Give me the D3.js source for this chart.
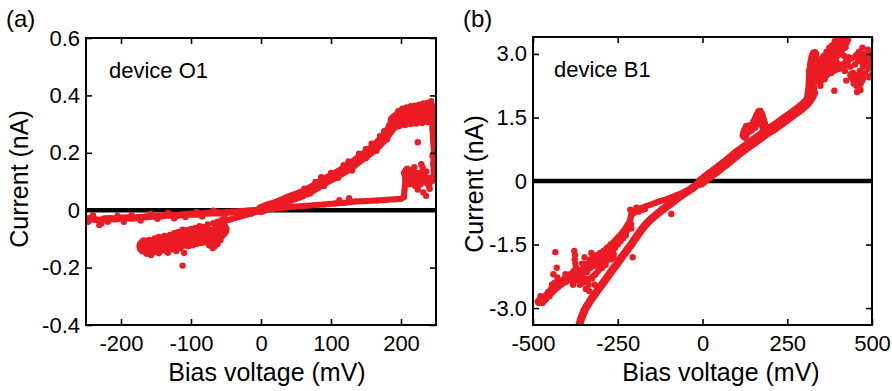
<!DOCTYPE html>
<html>
<head>
<meta charset="utf-8">
<script src="https://cdn.jsdelivr.net/npm/d3@7"></script>
<style>
body { margin: 0; background: #fff; }
svg { display: block; font-family: "Liberation Sans", Arial, Helvetica, sans-serif; }
</style>
</head>
<body>
<div class="chart"></div>
<script>
// ---- panel (a): device O1, current in nA vs bias in mV ----
const aXTicks = [-200, -100, 0, 100, 200]
const aYTicks = [-0.4, -0.2, 0, 0.2, 0.4, 0.6]

const aNegFlat = [[-250,-0.028],[-243,-0.03],[-236,-0.033],[-230,-0.036],[-224,-0.03],[-216,-0.029],[-208,-0.031],[-200,-0.027],[-192,-0.026],[-184,-0.028],[-176,-0.025],[-168,-0.024],[-160,-0.022],[-152,-0.02],[-144,-0.021],[-136,-0.018],[-128,-0.017],[-120,-0.019],[-112,-0.015],[-104,-0.014],[-96,-0.013],[-88,-0.014],[-80,-0.011],[-72,-0.01],[-64,-0.009],[-56,-0.01],[-48,-0.007],[-40,-0.006],[-32,-0.005],[-24,-0.004],[-16,-0.002],[-8,-0.001],[0,0]]
const aNegFlatDots = [[-247,-0.04],[-240,-0.018],[-231,-0.052],[-228,-0.046],[-219,-0.04],[-205,-0.02],[-196,-0.04],[-185,-0.017],[-172,-0.036],[-158,-0.012],[-148,-0.03],[-133,-0.01],[-124,-0.028],[-108,-0.024],[-92,-0.006],[-84,-0.022],[-68,-0.002],[-52,-0.017]]
const aNegLink = [[-62,-0.046],[-54,-0.04],[-46,-0.034],[-38,-0.028],[-30,-0.022],[-22,-0.017],[-14,-0.012],[-6,-0.005],[2,0.002]]
const aBlob = [[-166,-0.126],[-158,-0.129],[-150,-0.122],[-142,-0.118],[-134,-0.115],[-126,-0.11],[-118,-0.107],[-110,-0.104],[-102,-0.098],[-94,-0.093],[-86,-0.09],[-78,-0.088],[-70,-0.088],[-63,-0.082],[-57,-0.068]]
const aBlobDots = [[-168,-0.142],[-163,-0.152],[-157,-0.156],[-151,-0.144],[-146,-0.15],[-140,-0.14],[-133,-0.148],[-127,-0.136],[-121,-0.142],[-115,-0.132],[-110,-0.149],[-104,-0.126],[-98,-0.122],[-92,-0.118],[-86,-0.114],[-80,-0.112],[-74,-0.122],[-69,-0.132],[-66,-0.126],[-62,-0.118],[-58,-0.104],[-168,-0.105],[-160,-0.104],[-152,-0.098],[-146,-0.093],[-138,-0.09],[-130,-0.086],[-124,-0.08],[-118,-0.076],[-112,-0.068],[-106,-0.07],[-100,-0.065],[-94,-0.062],[-88,-0.056],[-82,-0.058],[-76,-0.05],[-68,-0.045],[-62,-0.04],[-56,-0.034],[-64,-0.06],[-60,-0.075],[-60,-0.092],[-112,-0.193]]
const aPosRise = [[0,0.002],[8,0.01],[16,0.016],[24,0.023],[32,0.031],[40,0.04],[48,0.047],[56,0.054],[64,0.063],[72,0.073],[80,0.085],[88,0.098],[96,0.108],[104,0.118],[112,0.13],[120,0.142],[128,0.154],[136,0.17],[144,0.184],[152,0.199],[160,0.214],[168,0.232],[175,0.25],[181,0.27],[187,0.29],[193,0.305]]
const aPosTop = [[193,0.31],[200,0.322],[208,0.327],[216,0.33],[224,0.333],[232,0.337],[240,0.342],[246,0.34]]
const aPosUpperDots = [[62,0.075],[78,0.098],[86,0.115],[100,0.13],[118,0.157],[125,0.17],[140,0.197],[150,0.213],[158,0.232],[170,0.258],[176,0.275],[183,0.295],[189,0.315],[196,0.345],[202,0.354],[208,0.358],[214,0.362],[220,0.364],[226,0.368],[232,0.372],[238,0.374],[243,0.38],[246,0.362],[70,0.058],[90,0.084],[110,0.113],[130,0.138],[150,0.182],[165,0.207],[180,0.247],[198,0.294],[206,0.297],[214,0.3],[222,0.302],[230,0.304],[238,0.307],[245,0.3]]
const aEdge = [[244,0.33],[245,0.28],[246,0.24],[247,0.2],[246,0.16],[247,0.12]]
const aPosLower = [[0,0],[15,0.004],[30,0.008],[45,0.012],[60,0.015],[75,0.017],[90,0.02],[105,0.023],[120,0.026],[135,0.03],[150,0.032],[165,0.034],[180,0.036],[192,0.038],[200,0.04],[204,0.046]]
const aJump = [[204,0.045],[205,0.07],[206,0.1],[206,0.125],[207,0.14]]
const aLowerRight = [[207,0.13],[210,0.115],[214,0.12],[218,0.105],[222,0.1],[226,0.11],[230,0.125],[234,0.11],[238,0.1],[242,0.105],[246,0.11]]
const aPosDots = [[112,0.035],[126,0.042],[209,0.145],[216,0.14],[219,0.15],[223,0.13],[229,0.16],[231,0.148],[236,0.135],[212,0.09],[220,0.085],[228,0.09],[240,0.085],[224,0.237],[224,0.072],[232,0.062],[236,0.05],[241,0.075],[248,0.15],[248,0.25],[245,0.19]]

// ---- panel (b): device B1 ----
const bXTicks = [-500, -250, 0, 250, 500]
const bYTicks = [-3, -1.5, 0, 1.5, 3]

const bNegMain = [[0,0],[-15,-0.08],[-30,-0.17],[-45,-0.25],[-60,-0.33],[-74,-0.41],[-88,-0.5],[-102,-0.58],[-115,-0.66],[-128,-0.74],[-140,-0.82],[-152,-0.9],[-162,-0.98],[-172,-1.07],[-180,-1.15],[-188,-1.24],[-196,-1.33],[-203,-1.41],[-210,-1.5],[-218,-1.58],[-225,-1.66],[-233,-1.74],[-240,-1.82],[-248,-1.91],[-256,-2.0],[-264,-2.08],[-272,-2.17],[-280,-2.26],[-288,-2.35],[-296,-2.44],[-305,-2.53],[-312,-2.61],[-320,-2.7],[-328,-2.79],[-335,-2.88],[-341,-2.95],[-347,-3.03],[-353,-3.15],[-359,-3.28],[-364,-3.42]]
const bNegUpper = [[-206,-0.72],[-198,-0.7],[-190,-0.67],[-180,-0.64],[-168,-0.6],[-154,-0.56],[-140,-0.52],[-128,-0.48],[-115,-0.45],[-102,-0.42],[-90,-0.38],[-78,-0.34],[-65,-0.3],[-52,-0.25],[-40,-0.21],[-28,-0.15]]
const bNoisyLow = [[-482,-2.85],[-465,-2.76],[-450,-2.64],[-435,-2.52],[-420,-2.42],[-405,-2.34],[-392,-2.3],[-380,-2.28]]
const bNoisyMid = [[-378,-2.15],[-360,-2.15],[-340,-2.05],[-320,-1.92],[-300,-1.8],[-280,-1.62],[-260,-1.47],[-240,-1.3],[-225,-1.15],[-215,-1.02]]
const bNoisyMid2 = [[-362,-2.45],[-340,-2.35],[-318,-2.22],[-296,-2.02],[-278,-1.85],[-262,-1.72]]
const bKneeDots = [[-213,-0.68],[-210,-0.8],[-205,-0.77],[-200,-0.74],[-195,-0.63],[-188,-0.72],[-178,-0.68],[-170,-0.66],[-212,-0.87],[-214,-0.94],[-100,-0.5],[-93,-0.47],[-86,-0.44],[-79,-0.42],[-72,-0.4],[-92,-0.78]]
const bNegDots = [[-482,-2.85],[-476,-2.8],[-470,-2.76],[-466,-2.82],[-460,-2.7],[-455,-2.62],[-450,-2.66],[-446,-2.55],[-442,-2.6],[-438,-2.48],[-434,-2.52],[-430,-2.42],[-426,-2.5],[-422,-2.38],[-418,-2.45],[-414,-2.35],[-410,-2.4],[-406,-2.3],[-402,-2.38],[-398,-2.25],[-394,-2.32],[-478,-2.72],[-472,-2.88],[-462,-2.78],[-452,-2.72],[-444,-2.45],[-436,-2.4],[-428,-2.28],
  [-434,-1.68],[-430,-2.05],[-404,-2.2],[-440,-2.2],
  [-378,-1.65],[-376,-1.75],[-377,-1.85],[-375,-1.95],[-373,-2.05],[-374,-2.15],[-372,-2.25],[-370,-2.35],[-368,-2.2],[-366,-2.1],[-385,-2.3],[-390,-2.2],[-382,-2.45],
  [-362,-2.3],[-358,-2.4],[-354,-2.2],[-350,-2.05],[-346,-2.3],[-342,-1.95],[-340,-2.15],[-336,-2.45],[-332,-1.85],[-330,-2.05],[-326,-2.3],[-322,-1.8],[-320,-2.0],[-316,-2.2],[-312,-1.75],[-310,-1.95],[-306,-2.1],[-302,-1.7],[-300,-1.9],[-296,-2.05],[-292,-1.65],[-290,-1.85],[-286,-1.98],[-355,-1.95],[-348,-1.8],[-344,-2.55],[-334,-2.6],[-328,-1.7],[-318,-2.45],
  [-282,-1.58],[-278,-1.75],[-274,-1.62],[-270,-1.5],[-266,-1.68],[-262,-1.45],[-258,-1.58],[-254,-1.4],[-250,-1.5],[-246,-1.32],[-242,-1.42],[-238,-1.25],[-234,-1.35],[-230,-1.18],[-226,-1.28],[-222,-1.12],[-218,-1.05],[-214,-1.0],[-210,-1.12],[-206,-1.8],[-270,-1.85],[-262,-1.8]]
const bPosMain = [[-5,-0.03],[10,0.07],[21,0.14],[32,0.2],[44,0.27],[56,0.35],[68,0.42],[80,0.5],[92,0.58],[104,0.66],[116,0.73],[128,0.8],[140,0.87],[152,0.94],[164,1.01],[176,1.08],[188,1.15],[200,1.21],[212,1.27],[224,1.34],[236,1.41],[248,1.48],[260,1.55],[272,1.62],[284,1.69],[296,1.77],[306,1.84],[314,1.92],[320,2.0],[325,2.08]]
const bBump = [[124,1.08],[127,1.17],[130,1.22],[134,1.24],[138,1.22],[142,1.25],[147,1.29],[152,1.33],[156,1.39],[160,1.46],[163,1.52],[166,1.57],[169,1.6],[172,1.54],[175,1.45],[178,1.38],[181,1.3],[185,1.25]]
const bBumpDots = [[126,1.02],[129,1.3],[135,1.15],[140,1.32],[145,1.2],[150,1.4],[155,1.26],[162,1.38],[165,1.64],[170,1.66],[173,1.45],[177,1.5],[180,1.22]]
const bTopCol = [[314,1.95],[318,2.2],[320,2.5],[324,2.8],[330,3.0]]
const bTopMain = [[340,2.6],[360,2.8],[380,2.95],[400,3.15],[415,3.35]]
const bTopLow = [[345,2.35],[370,2.55],[395,2.65],[420,2.75],[432,2.9]]
const bRightUp = [[462,2.95],[475,2.85],[488,2.8],[498,2.9]]
const bRightLow = [[440,2.5],[452,2.35],[462,2.3],[472,2.45]]
const bTopDots = [[318,2.0],[322,2.15],[316,2.3],[320,2.45],[314,2.6],[318,2.75],[322,2.9],[326,2.4],[330,2.2],[334,2.55],[338,2.35],[342,2.7],[346,2.5],[350,2.85],[354,2.6],[358,2.95],[362,2.75],[366,3.05],[370,2.85],[374,3.15],[378,2.9],[382,3.2],[386,3.0],[390,3.3],[394,3.05],[398,3.38],[402,3.2],[406,3.4],[410,3.1],[414,3.3],[418,2.95],[422,3.15],[426,2.8],[372,2.6],[380,2.55],[388,2.7],[396,2.8],[404,2.65],[412,2.75],[420,2.6],[389,2.13],[424,2.37],[360,2.4],[348,2.25],
  [436,2.7],[440,2.9],[444,2.55],[448,2.4],[450,2.75],[454,2.25],[458,2.5],[460,2.85],[464,2.6],[468,2.35],[470,2.95],[474,2.7],[478,3.0],[482,2.8],[486,2.9],[490,2.65],[494,2.75],[496,3.05],[492,2.45],[488,3.1],[480,2.55],[466,2.15],[456,2.1],[446,2.3],[498,2.5],[472,3.15],[462,3.05],[452,2.95]]

const red = "#ec1c24"
const fmtA = d => d === 0 ? "0" : String(d)
const fmtB = d => d === 0 ? "0" : d.toFixed(1)

const panels = [
  {label: "(a)", labelX: 6, name: "device O1", nameX: 109, nameY: 78,
   left: 86, right: 436, top: 38, bottom: 325,
   xDomain: [-250, 250], yDomain: [-0.4, 0.6], xTicks: aXTicks, yTicks: aYTicks, fx: fmtA, fy: fmtA,
   xTitleX: 267, yTitleX: 28, yTitleY: 179,
   bands: [{pts: aNegFlat, w: 7}, {pts: aNegLink, w: 6}, {pts: aBlob, w: 17}, {pts: aPosRise, w: 11},
           {pts: aPosTop, w: 17}, {pts: aEdge, w: 6}, {pts: aPosLower, w: 6}, {pts: aJump, w: 6},
           {pts: aLowerRight, w: 10}],
   dots: [aNegFlatDots, aBlobDots, aPosUpperDots, aPosDots]},
  {label: "(b)", labelX: 463, name: "device B1", nameX: 554, nameY: 77,
   left: 533, right: 872, top: 37, bottom: 325,
   xDomain: [-500, 500], yDomain: [-3.4, 3.4], xTicks: bXTicks, yTicks: bYTicks, fx: fmtA, fy: fmtB,
   xTitleX: 721, yTitleX: 483, yTitleY: 184,
   bands: [{pts: bNegMain, w: 8}, {pts: bNegUpper, w: 6}, {pts: bNoisyLow, w: 9}, {pts: bNoisyMid, w: 9},
           {pts: bNoisyMid2, w: 6}, {pts: bPosMain, w: 11}, {pts: bBump, w: 10},
           {pts: bTopCol, w: 10}, {pts: bTopMain, w: 16}, {pts: bTopLow, w: 8},
           {pts: bRightUp, w: 12}, {pts: bRightLow, w: 9}],
   dots: [bKneeDots, bNegDots, bBumpDots, bTopDots]}
]

const svg = d3.select(".chart").append("svg")
    .attr("width", 892)
    .attr("height", 391)

panels.forEach((p, i) => {
    const x = d3.scaleLinear().domain(p.xDomain).range([p.left, p.right])
    const y = d3.scaleLinear().domain(p.yDomain).range([p.bottom, p.top])
    const g = svg.append("g")

    g.append("clipPath").attr("id", "clip" + i)
      .append("rect")
        .attr("x", p.left).attr("y", p.top)
        .attr("width", p.right - p.left).attr("height", p.bottom - p.top)

    const plot = g.append("g").attr("clip-path", `url(#clip${i})`)
    const line = d3.line().x(d => x(d[0])).y(d => y(d[1]))

    // zero-current reference trace
    plot.append("path")
        .attr("d", line([[p.xDomain[0], 0], [p.xDomain[1], 0]]))
        .attr("stroke", "#000")
        .attr("stroke-width", 4.5)

    p.bands.forEach(b => {
        plot.append("path")
            .attr("d", line(b.pts))
            .attr("fill", "none")
            .attr("stroke", red)
            .attr("stroke-width", b.w)
            .attr("stroke-linejoin", "round")
            .attr("stroke-linecap", "round")
        plot.selectAll(null).data(b.pts).join("circle")
            .attr("cx", d => x(d[0])).attr("cy", d => y(d[1]))
            .attr("r", 3).attr("fill", red)
    })
    p.dots.forEach(arr => {
        plot.selectAll(null).data(arr).join("circle")
            .attr("cx", d => x(d[0])).attr("cy", d => y(d[1]))
            .attr("r", 3.2).attr("fill", red)
    })

    const styleAxis = ax => ax
        .call(a => a.select(".domain").remove())
        .call(a => a.selectAll(".tick line").attr("stroke-width", 1.6))
        .call(a => a.selectAll("text").attr("font-size", 22).attr("fill", "#000"))
        .attr("font-family", null)

    g.append("g").attr("transform", `translate(0,${p.bottom})`)
        .call(d3.axisBottom(x).tickValues(p.xTicks).tickFormat(p.fx).tickSize(-6).tickPadding(10))
        .call(styleAxis)
    g.append("g").attr("transform", `translate(0,${p.top})`)
        .call(d3.axisTop(x).tickValues(p.xTicks).tickFormat("").tickSize(-6))
        .call(styleAxis)
    g.append("g").attr("transform", `translate(${p.left},0)`)
        .call(d3.axisLeft(y).tickValues(p.yTicks).tickFormat(p.fy).tickSize(-6).tickPadding(6))
        .call(styleAxis)
    g.append("g").attr("transform", `translate(${p.right},0)`)
        .call(d3.axisRight(y).tickValues(p.yTicks).tickFormat("").tickSize(-6))
        .call(styleAxis)

    g.append("rect")
        .attr("x", p.left).attr("y", p.top)
        .attr("width", p.right - p.left).attr("height", p.bottom - p.top)
        .attr("fill", "none").attr("stroke", "#000").attr("stroke-width", 2)

    g.append("text").attr("x", p.labelX).attr("y", 27).attr("font-size", 24).text(p.label)
    g.append("text").attr("x", p.nameX).attr("y", p.nameY).attr("font-size", 22).text(p.name)
    g.append("text").attr("x", p.xTitleX).attr("y", 381).attr("font-size", 25)
        .attr("text-anchor", "middle").text("Bias voltage (mV)")
    g.append("text").attr("font-size", 25).attr("text-anchor", "middle")
        .attr("transform", `translate(${p.yTitleX},${p.yTitleY}) rotate(-90)`)
        .text("Current (nA)")
})
</script>
</body>
</html>
